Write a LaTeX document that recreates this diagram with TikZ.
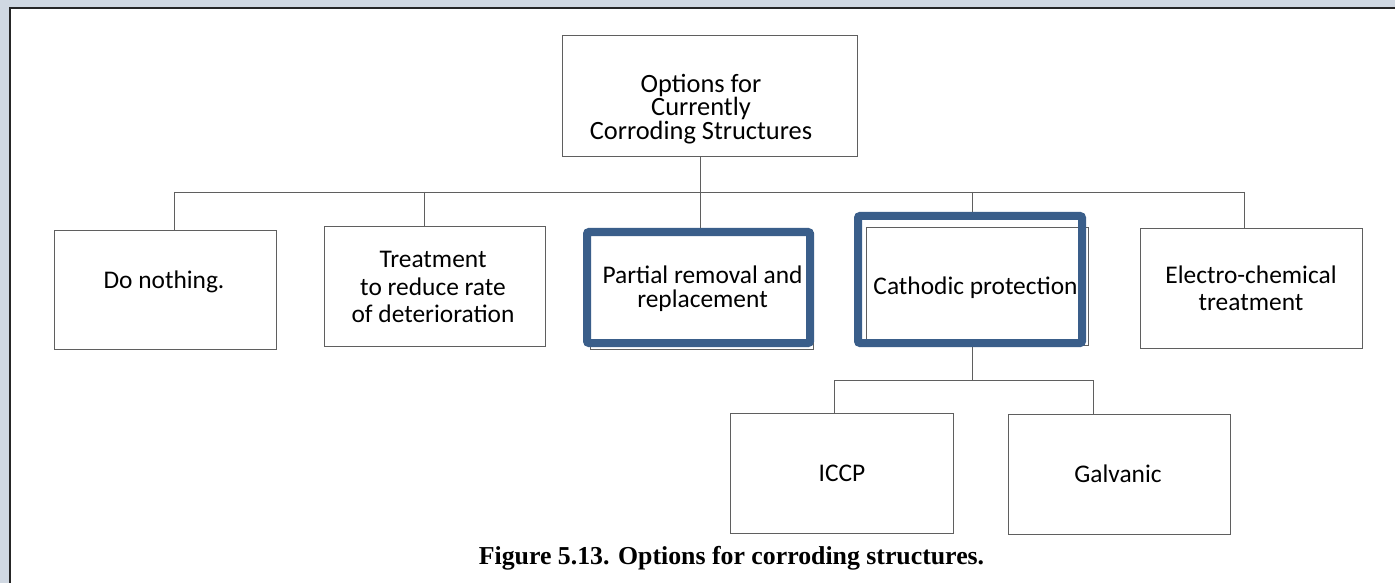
\documentclass[tikz,border=0pt]{standalone}
\usepackage{fontspec}
\setmainfont{Carlito}
\newfontfamily\capfont{Liberation Serif}
\definecolor{hl}{RGB}{58,94,138}
\definecolor{ln}{RGB}{95,95,95}
\definecolor{bgc}{RGB}{208,216,226}
\newcommand\tightlines{\lineskiplimit=-100pt\relax}
\newcommand\boxfont[1]{\fontsize{25.5}{#1}\selectfont\tightlines}
\begin{document}
\begin{tikzpicture}[x=1bp,y=-1bp,
  box/.style={draw=ln, line width=0.9bp, fill=white, inner sep=0pt},
  txt/.style={align=center, inner sep=0pt, font=\boxfont{26}},
  conn/.style={draw=ln, line width=0.9bp},
  hlbox/.style={draw=hl, line width=8bp, rounded corners=2bp, inner sep=0pt}]
\useasboundingbox (0,0) rectangle (1395,583);
% page background
\fill[bgc] (0,0) rectangle (1395,583);
\fill[white] (10,8) rectangle (1395,583);
\draw[black!85, line width=1.6bp] (10,583) -- (10,8) -- (1395,8);

% top box
\node[box, minimum width=295bp, minimum height=121bp] (top) at (709.5,95.5) {};
\node[txt, font={\fontsize{26.5}{23.5}\selectfont\tightlines}] (topT) at (701,109)
  {Options for\\Currently\\Corroding Structures};

% second level boxes
\node[box, minimum width=222bp, minimum height=119bp] (nothing) at (165,289.5) {};
\node[box, minimum width=221bp, minimum height=120bp] (treat) at (434.5,286) {};
\node[box, minimum width=223bp, minimum height=117bp] (partial) at (701.5,290.5) {};
\node[box, minimum width=222bp, minimum height=118bp] (cath) at (977,286) {};
\node[box, minimum width=222bp, minimum height=120bp] (electro) at (1251,288) {};

% highlight frames
\node[hlbox, minimum width=223bp, minimum height=111bp] (partialhl) at (698.5,287.5) {};
\node[hlbox, minimum width=224bp, minimum height=127bp] (cathhl) at (970,279.5) {};

% second level texts
\node[txt] (nothingT) at (164,282) {Do nothing.};
\node[txt, font=\boxfont{27.5}] (treatT) at (433,287)
  {Treatment\\to reduce rate\\of deterioration};
\node[txt, font=\boxfont{24.5}] (partialT) at (702.5,289)
  {Partial removal and\\replacement};
\node[txt] (cathT) at (975.5,288) {Cathodic protection};
\node[txt, font=\boxfont{27}] (electroT) at (1251,288)
  {Electro-chemical\\treatment};

% third level
\node[box, minimum width=223bp, minimum height=120bp] (iccp) at (841.5,473) {};
\node[box, minimum width=222bp, minimum height=120bp] (galv) at (1119,474) {};
\node[txt] (iccpT) at (842,473) {ICCP};
\node[txt] (galvT) at (1118,474) {Galvanic};

% connectors, first level
\coordinate (busL) at (174,192);
\coordinate (jT) at (424,192);
\coordinate (jP) at (700,192);
\coordinate (jC) at (972,192);
\coordinate (busR) at (1244,192);
\draw[conn] (jP |- top.south) -- (jP);
\draw[conn] (busL) -- (busR);
\draw[conn] (busL) -- (busL |- nothing.north);
\draw[conn] (jT) -- (jT |- treat.north);
\draw[conn] (jP) -- (jP |- partialhl.north);
\draw[conn] (jC) -- (jC |- cathhl.north);
\draw[conn] (busR) -- (busR |- electro.north);

% connectors, second level
\coordinate (sub) at (972,380);
\coordinate (subL) at (834,380);
\coordinate (subR) at (1093,380);
\draw[conn] (sub |- cathhl.south) -- (sub);
\draw[conn] (subL) -- (subR);
\draw[conn] (subL) -- (subL |- iccp.north);
\draw[conn] (subR) -- (subR |- galv.north);

% caption
\node[anchor=base, inner sep=0pt, font=\capfont\bfseries\fontsize{25.9}{25.9}\selectfont] (cap)
  at (731.5,564) {Figure 5.13. Options for corroding structures.};
\end{tikzpicture}
\end{document}
